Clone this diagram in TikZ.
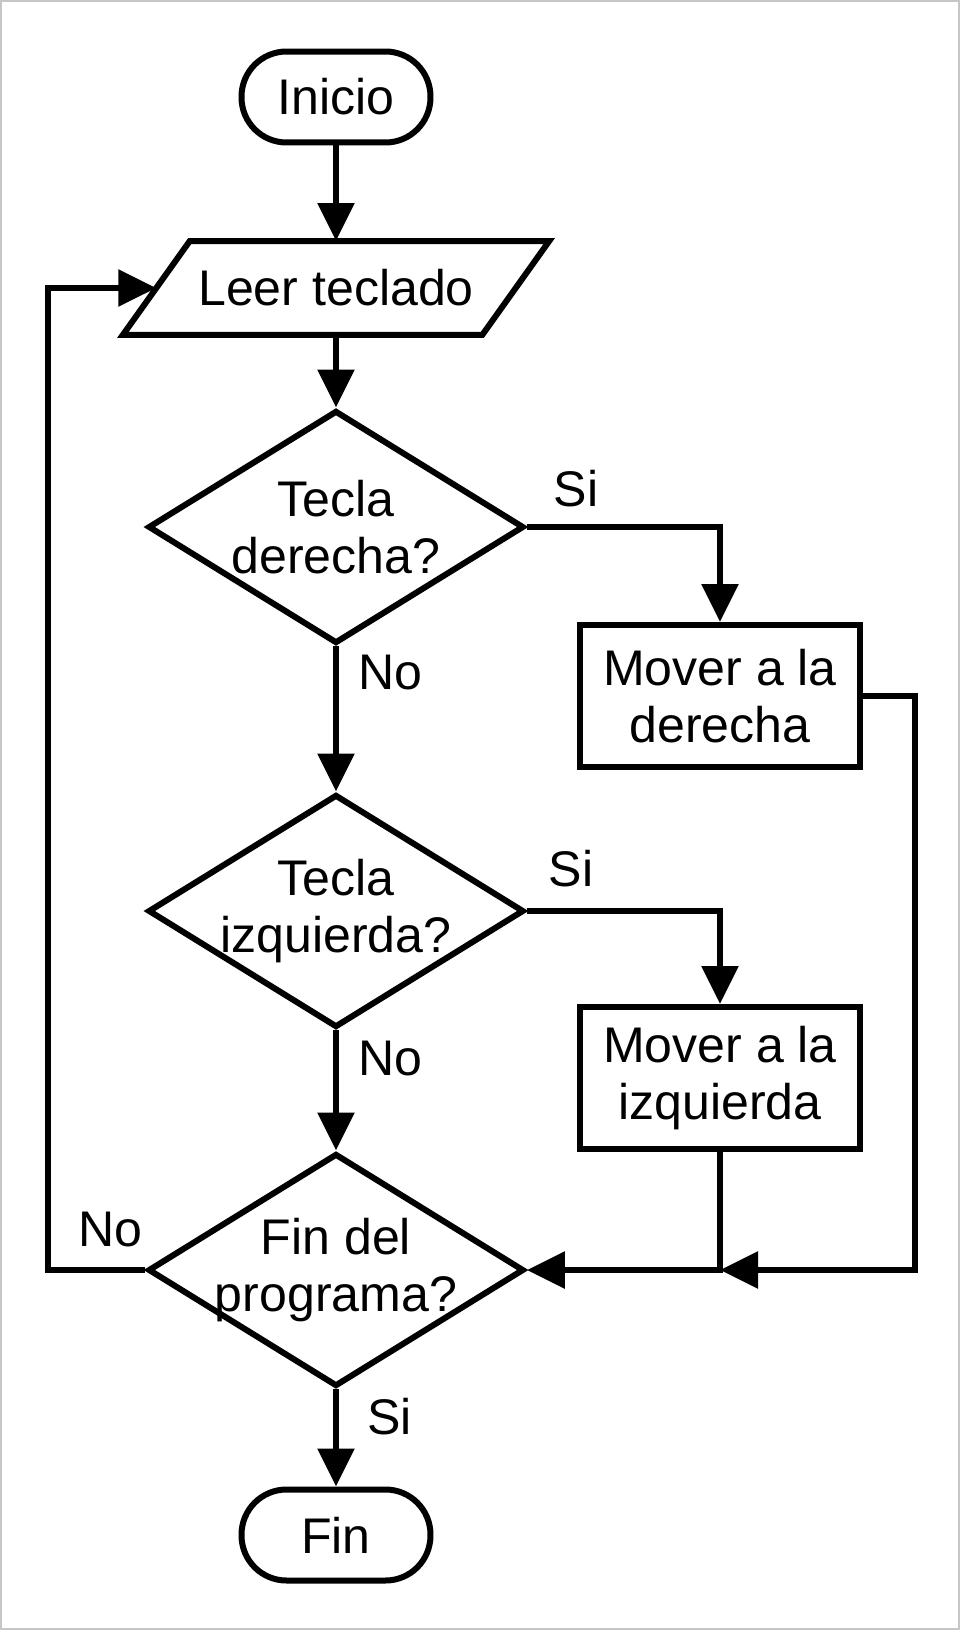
\documentclass[tikz,border=0pt]{standalone}
\usepackage{fontspec}
\setmainfont{Liberation Sans}
\usetikzlibrary{shapes.geometric,arrows.meta}
\tikzset{
    node-text/.style = {font=\fontsize{28.5pt}{32.4pt}\selectfont, align=center, inner sep=0pt},
    terminal-box/.style = {node-text, draw, rectangle, rounded corners=0.9cm, minimum width=3.78cm, minimum height=1.82cm},
    io-box/.style = {node-text, rectangle, minimum width=7.07cm, minimum height=1.76cm},
    process-box/.style = {node-text, draw, rectangle, minimum width=5.6cm, minimum height=2.84cm},
    decision-box/.style = {node-text, draw, diamond, aspect=1.6, inner sep=-0.2cm, minimum width=7.52cm, minimum height=4.66cm},
    branch-label/.style = {node-text},
    flow-arrow/.style = {-{Triangle[length=0.76cm,width=0.72cm]}},
}

\begin{document}
\begin{tikzpicture}[x=0.02cm, y=-0.02cm, line width=0.12cm]
\useasboundingbox (0,0) rectangle (960,1630);
\draw[gray!45, line width=0.04cm] (1,1) rectangle (959,1629);

\node[terminal-box] (inicio) at (336,97) {Inicio};
\node[io-box] (leer) at (336,288) {Leer teclado};
\draw ([xshift=0.67cm]leer.north west) -- ([xshift=0.67cm]leer.north east)
    -- ([xshift=-0.67cm]leer.south east) -- ([xshift=-0.67cm]leer.south west) -- cycle;
\node[decision-box] (derecha) at (336,527) {Tecla\\derecha?};
\node[process-box] (mover-der) at (720,696) {Mover a la\\derecha};
\node[decision-box] (izquierda) at (336,911) {Tecla\\izquierda?};
\node[process-box] (mover-izq) at (720,1078) {Mover a la\\izquierda};
\node[decision-box] (fin-prog) at (336,1270) {Fin del\\programa?};
\node[terminal-box] (fin) at (336,1535) {Fin};

\node[branch-label, anchor=south west] (si-der) at ([shift={(24,-17)}]derecha.east) {Si};
\node[branch-label, anchor=north west] (no-der) at ([shift={(19,6)}]derecha.south) {No};
\node[branch-label, anchor=south west] (si-izq) at ([shift={(19,-21)}]izquierda.east) {Si};
\node[branch-label, anchor=north west] (no-izq) at ([shift={(19,8)}]izquierda.south) {No};
\node[branch-label, anchor=south east] (no-fin) at ([shift={(0,-20)}]fin-prog.west) {No};
\node[branch-label, anchor=north west] (si-fin) at ([shift={(28,6)}]fin-prog.south) {Si};

\draw[flow-arrow] (inicio) -- (leer);
\draw[flow-arrow] (leer) -- (derecha);
\draw[flow-arrow] (derecha) -- (izquierda);
\draw[flow-arrow] (izquierda) -- (fin-prog);
\draw[flow-arrow] (fin-prog) -- (fin);
\draw[flow-arrow] (derecha.east) -| (mover-der.north);
\draw[flow-arrow] (izquierda.east) -| (mover-izq.north);
\draw[flow-arrow] (fin-prog.west) -- ++(-97,0) |- (leer.west);
\coordinate (union) at (mover-izq.south |- fin-prog.east);
\draw[flow-arrow] (mover-der.east) -- ++(52,0) |- (union);
\draw[flow-arrow] (mover-izq.south) -- (union) -- (fin-prog.east);
\end{tikzpicture}
\end{document}
